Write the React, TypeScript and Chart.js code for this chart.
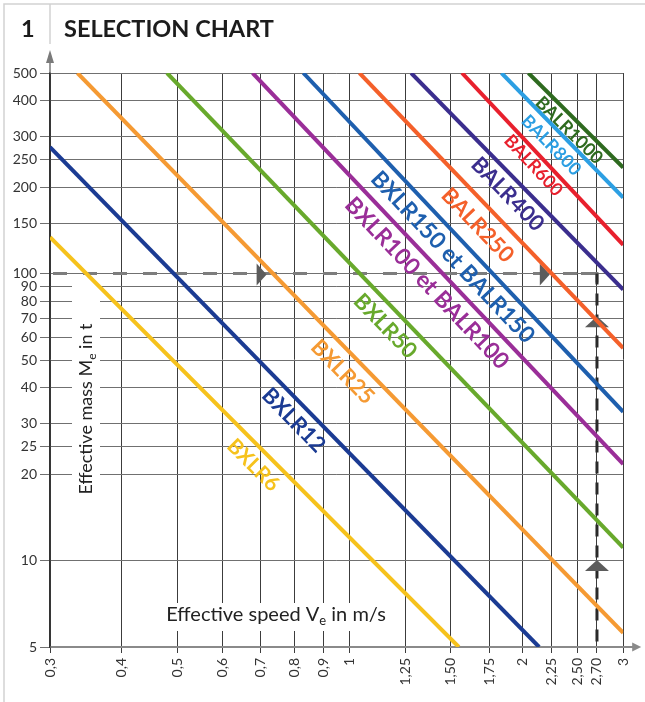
import { useEffect, useRef } from 'react';
import { Chart, registerables } from 'chart.js';

Chart.register(...registerables);

// ---------- data ----------
const xTickValues = [0.3, 0.4, 0.5, 0.6, 0.7, 0.8, 0.9, 1, 1.25, 1.5, 1.75, 2, 2.25, 2.5, 2.7, 3];
const xTickLabels = ['0,3', '0,4', '0,5', '0,6', '0,7', '0,8', '0,9', '1', '1,25', '1,50', '1,75', '2', '2,25', '2,50', '2,70', '3'];
const yTickValues = [5, 10, 20, 25, 30, 40, 50, 60, 70, 80, 90, 100, 150, 200, 250, 300, 400, 500];
const yTickLabels = ['5', '10', '20', '25', '30', '40', '50', '60', '70', '80', '90', '100', '150', '200', '250', '300', '400', '500'];

const seriesNames = [
  'BXLR6', 'BXLR12', 'BXLR25', 'BXLR50', 'BXLR100 et BALR100', 'BXLR150 et BALR150',
  'BALR250', 'BALR400', 'BALR600', 'BALR800', 'BALR1000',
];
const speedStart = [0.3, 0.3, 0.335, 0.48, 0.677, 0.83, 1.04, 1.28, 1.57, 1.84, 2.05];
const massStart = [134, 276, 500, 500, 500, 500, 500, 500, 500, 500, 500];
const speedEnd = [1.55, 2.14, 3, 3, 3, 3, 3, 3, 3, 3, 3];
const massEnd = [5, 5, 5.6, 11.1, 21.7, 33, 55, 88, 126, 184, 234];

// label anchor points (speed, mass) of each series name
const labelSpeed = [0.68, 0.8, 0.974, 1.156, 1.367, 1.516, 1.675, 1.889, 2.095, 2.251, 2.418];
const labelMass = [21.6, 31.0, 45.6, 65.9, 93.0, 114.5, 148, 190, 239, 281, 317];

// reference example (dashed path)
const refMass = 100;
const refSpeed = 2.7;
const arrowRightSpeeds = [0.688, 2.146];
const arrowUpMasses = [65, 9.2];

const xMin = 0.3;
const xMax = 3;
const yMin = 5;
const yMax = 500;

// ---------- styles ----------
const seriesColors = [
  '#f6c21c', '#1b3b93', '#f59a33', '#68a92c', '#9a2e98', '#1e5fae',
  '#f4602a', '#3b2e8e', '#e8202d', '#2c9fe3', '#2e6a1f',
];
const labelSizes = [21, 22, 22, 22, 23, 23, 22, 22, 18, 18, 18];
const FONT = 'Lato, "Open Sans", sans-serif';

type Part = { t: string; size: number; dy?: number };

function drawRich(ctx: CanvasRenderingContext2D, parts: Part[], cx: number, cy: number, angle: number, color: string) {
  let total = 0;
  const widths = parts.map((p) => {
    ctx.font = `${p.size}px ${FONT}`;
    const w = ctx.measureText(p.t).width;
    total += w;
    return w;
  });
  ctx.save();
  ctx.translate(cx, cy);
  ctx.rotate(angle);
  ctx.fillStyle = color;
  ctx.textAlign = 'left';
  ctx.textBaseline = 'alphabetic';
  let xx = -total / 2;
  const base = parts[0].size * 0.36;
  parts.forEach((p, i) => {
    ctx.font = `${p.size}px ${FONT}`;
    ctx.fillText(p.t, xx, base + (p.dy || 0));
    xx += widths[i];
  });
  ctx.restore();
}

const overlayPlugin = {
  id: 'overlay',
  beforeDatasetsDraw(chart: any) {
    const { ctx, scales } = chart;
    const x = scales.x;
    const y = scales.y;
    ctx.save();
    // white boxes behind axis titles (they interrupt the grid)
    ctx.fillStyle = '#ffffff';
    ctx.fillRect(72, 283, 28, 229);
    ctx.fillRect(158, 603, 237, 28);
    drawRich(ctx, [
      { t: 'Effective mass M', size: 18 },
      { t: 'e', size: 12, dy: 4 },
      { t: ' in t', size: 18 },
    ], 86, 409, -Math.PI / 2, '#222');
    drawRich(ctx, [
      { t: 'Effective speed V', size: 20 },
      { t: 'e', size: 13, dy: 4 },
      { t: ' in m/s', size: 20 },
    ], 276, 614, 0, '#222');

    // dashed reference path
    const yRef = y.getPixelForValue(refMass);
    const xRef = x.getPixelForValue(refSpeed);
    const x0 = x.getPixelForValue(xMin);
    const yB = y.getPixelForValue(yMin);
    ctx.lineWidth = 3;
    ctx.strokeStyle = '#7d7d7d';
    ctx.setLineDash([14, 16]);
    ctx.beginPath();
    ctx.moveTo(x0 + 3, yRef);
    ctx.lineTo(xRef - 1, yRef);
    ctx.stroke();
    ctx.setLineDash([]);
    ctx.beginPath();
    ctx.moveTo(xRef - 16, yRef);
    ctx.lineTo(xRef, yRef);
    ctx.lineTo(xRef, yRef + 9);
    ctx.stroke();
    ctx.strokeStyle = '#2a2a2a';
    ctx.setLineDash([12, 9]);
    ctx.lineDashOffset = -20;
    ctx.beginPath();
    ctx.moveTo(xRef, yRef);
    ctx.lineTo(xRef, yB);
    ctx.stroke();
    ctx.setLineDash([]);

    // arrow markers
    ctx.fillStyle = '#5c5c5c';
    arrowRightSpeeds.forEach((v) => {
      const px = x.getPixelForValue(v);
      ctx.beginPath();
      ctx.moveTo(px, yRef - 10);
      ctx.lineTo(px, yRef + 12);
      ctx.lineTo(px + 10, yRef + 1);
      ctx.closePath();
      ctx.fill();
    });
    arrowUpMasses.forEach((m) => {
      const py = y.getPixelForValue(m);
      ctx.beginPath();
      ctx.moveTo(xRef - 12, py);
      ctx.lineTo(xRef + 12, py);
      ctx.lineTo(xRef, py - 11);
      ctx.closePath();
      ctx.fill();
    });
    ctx.restore();
  },
  afterDatasetsDraw(chart: any) {
    const { ctx, scales } = chart;
    const x = scales.x;
    const y = scales.y;
    ctx.save();
    seriesNames.forEach((name, i) => {
      const x1 = x.getPixelForValue(speedStart[i]);
      const y1 = y.getPixelForValue(massStart[i]);
      const x2 = x.getPixelForValue(speedEnd[i]);
      const y2 = y.getPixelForValue(massEnd[i]);
      const ang = Math.atan2(y2 - y1, x2 - x1);
      const cx = x.getPixelForValue(labelSpeed[i]);
      const cy = y.getPixelForValue(labelMass[i]);
      ctx.save();
      ctx.translate(cx, cy);
      ctx.rotate(ang);
      ctx.font = `bold ${labelSizes[i]}px ${FONT}`;
      ctx.fillStyle = seriesColors[i];
      ctx.textAlign = 'center';
      ctx.textBaseline = 'alphabetic';
      ctx.fillText(name, 0, labelSizes[i] * 0.36);
      ctx.restore();
    });
    ctx.restore();
  },
  afterDraw(chart: any) {
    const { ctx, chartArea } = chart;
    const { left, right, top, bottom } = chartArea;
    ctx.save();
    // page frame
    ctx.strokeStyle = '#d2d2d2';
    ctx.lineWidth = 1.5;
    ctx.beginPath();
    ctx.moveTo(4, 702);
    ctx.lineTo(4, 4);
    ctx.lineTo(645, 4);
    ctx.moveTo(left, 4);
    ctx.lineTo(left, 44);
    ctx.stroke();
    // axis arrows
    ctx.strokeStyle = '#7a7a7a';
    ctx.fillStyle = '#7a7a7a';
    ctx.lineWidth = 1.5;
    ctx.beginPath();
    ctx.moveTo(left, top);
    ctx.lineTo(left, top - 12);
    ctx.stroke();
    ctx.beginPath();
    ctx.moveTo(left, top - 23);
    ctx.lineTo(left - 4, top - 10);
    ctx.lineTo(left + 4, top - 10);
    ctx.closePath();
    ctx.fill();
    ctx.strokeStyle = '#8a8a8a';
    ctx.fillStyle = '#8a8a8a';
    ctx.lineWidth = 2;
    ctx.beginPath();
    ctx.moveTo(right, bottom);
    ctx.lineTo(right + 10, bottom);
    ctx.stroke();
    ctx.beginPath();
    ctx.moveTo(right + 18, bottom);
    ctx.lineTo(right + 9, bottom - 4.5);
    ctx.lineTo(right + 9, bottom + 4.5);
    ctx.closePath();
    ctx.fill();
    // heading
    ctx.fillStyle = '#1c1c1c';
    ctx.font = `bold 23.5px ${FONT}`;
    ctx.textAlign = 'left';
    ctx.textBaseline = 'alphabetic';
    ctx.fillText('1', 21, 37);
    ctx.fillText('SELECTION CHART', 64, 37);
    ctx.restore();
  },
};

export default function App() {
  const ref = useRef<HTMLCanvasElement | null>(null);
  useEffect(() => {
    if (!ref.current) return;
    Chart.defaults.font.family = FONT;
    const chart = new Chart(ref.current, {
      type: 'scatter',
      data: {
        datasets: seriesNames.map((name, i) => ({
          label: name,
          data: [
            { x: speedStart[i], y: massStart[i] },
            { x: speedEnd[i], y: massEnd[i] },
          ],
          borderColor: seriesColors[i],
          backgroundColor: seriesColors[i],
          borderWidth: 4,
          pointRadius: 0,
          pointHoverRadius: 0,
          showLine: true,
          fill: false,
          tension: 0,
        })),
      },
      options: {
        animation: false,
        responsive: false,
        devicePixelRatio: 1,
        layout: { padding: { top: 73, right: 18, bottom: 0, left: 0 } },
        plugins: {
          legend: { display: false },
          tooltip: { enabled: false },
          title: { display: false },
        },
        scales: {
          x: {
            type: 'logarithmic',
            min: xMin,
            max: xMax,
            afterBuildTicks: (axis: any) => {
              axis.ticks = xTickValues.map((v) => ({ value: v }));
            },
            afterFit: (axis: any) => {
              axis.height = 55;
            },
            ticks: {
              autoSkip: false,
              maxRotation: 90,
              minRotation: 90,
              padding: 5,
              color: '#333',
              font: { size: 14, family: FONT },
              callback: (_v: any, i: number) => xTickLabels[i],
            },
            grid: { color: '#3c3c3c', lineWidth: 1, tickLength: 6 },
            border: { display: true, color: '#8a8a8a', width: 2 },
          },
          y: {
            type: 'logarithmic',
            min: yMin,
            max: yMax,
            afterBuildTicks: (axis: any) => {
              axis.ticks = yTickValues.map((v) => ({ value: v }));
            },
            afterFit: (axis: any) => {
              axis.width = 50;
            },
            ticks: {
              autoSkip: false,
              padding: 3,
              color: '#333',
              font: { size: 14, family: FONT },
              callback: (_v: any, i: number) => yTickLabels[i],
            },
            grid: { color: '#707070', lineWidth: 1, tickLength: 10 },
            border: { display: true, color: '#333', width: 1.5 },
          },
        },
      },
      plugins: [overlayPlugin],
    } as any);
    return () => chart.destroy();
  }, []);
  return (
    <div style={{ position: 'absolute', left: 0, top: 0, width: 645, height: 702, background: '#fff' }}>
      <canvas ref={ref} width={645} height={702} style={{ display: 'block', width: 645, height: 702 }} />
    </div>
  );
}
